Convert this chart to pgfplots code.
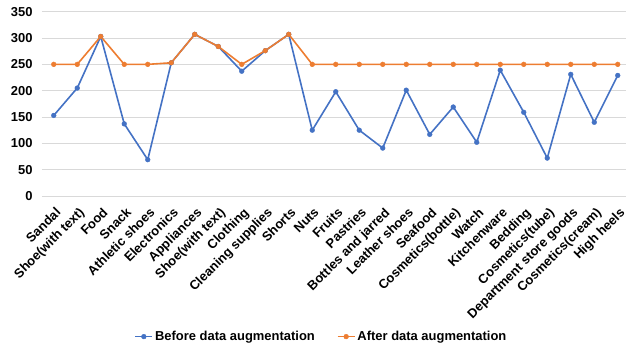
\documentclass[border=0pt]{standalone}
\usepackage{fontspec}
\setmainfont{Liberation Sans}
\usepackage{pgfplots}
\pgfplotsset{compat=1.18}
\definecolor{exblue}{HTML}{4472C4}
\definecolor{exorange}{HTML}{ED7D31}
\definecolor{gridgray}{HTML}{D9D9D9}
\begin{document}
\begin{tikzpicture}
\begin{axis}[
  name=ax,
  scale only axis,
  width=587.5bp, height=184.3bp,
  xmin=-0.5, xmax=24.5,
  ymin=0, ymax=350,
  ytick={0,50,...,350},
  xtick={0,...,24},
  xticklabels={Sandal,Shoe(with text),Food,Snack,Athletic shoes,Electronics,Appliances,Shoe(with text),Clothing,Cleaning supplies,Shorts,Nuts,Fruits,Pastries,Bottles and jarred,Leather shoes,Seafood,Cosmetics(bottle),Watch,Kitchenware,Bedding,Cosmetics(tube),Department store goods,Cosmetics(cream),High heels},
  /pgf/number format/assume math mode=true,
  font=\bfseries\fontsize{13}{15}\selectfont,
  tick label style={font=\bfseries\fontsize{13}{15}\selectfont},
  x tick label style={xshift=1bp, yshift=-10.5bp, rotate=45, anchor=north east, inner sep=0pt},
  y tick label style={xshift=-6bp},
  axis line style={draw=none},
  major tick length=0pt,
  ymajorgrids,
  grid style={gridgray, line width=1bp},
  legend columns=2,
  legend style={draw=none, fill=none, at={(0.4757,-0.763)}, anchor=center,
    font=\bfseries\fontsize{13}{15}\selectfont,
    /tikz/every even column/.append style={column sep=20bp}},
  legend image code/.code={
    \draw[mark repeat=2, mark phase=2] plot coordinates {(0bp,0bp) (8.5bp,0bp) (17bp,0bp)};
  },
  every axis plot/.append style={line width=1.6bp, mark=*, mark size=2.4bp},
]
\addplot[exblue, mark options={fill=exblue, line width=0.4bp}] coordinates {
  (0,153) (1,205) (2,303) (3,137) (4,69) (5,253) (6,307) (7,284) (8,237) (9,276)
  (10,307) (11,125) (12,198) (13,125) (14,91) (15,201) (16,117) (17,169) (18,102)
  (19,239) (20,159) (21,72) (22,231) (23,140) (24,229)};
\addlegendentry{Before data augmentation}
\addplot[exorange, mark options={fill=exorange, line width=0.4bp}] coordinates {
  (0,250) (1,250) (2,303) (3,250) (4,250) (5,253) (6,307) (7,284) (8,250) (9,276)
  (10,307) (11,250) (12,250) (13,250) (14,250) (15,250) (16,250) (17,250) (18,250)
  (19,250) (20,250) (21,250) (22,250) (23,250) (24,250)};
\addlegendentry{After data augmentation}
\end{axis}
\pgfresetboundingbox
\path[use as bounding box] ([shift={(-42bp,-152bp)}]ax.south west) rectangle ([shift={(584bp,196bp)}]ax.south west);
\end{tikzpicture}
\end{document}
